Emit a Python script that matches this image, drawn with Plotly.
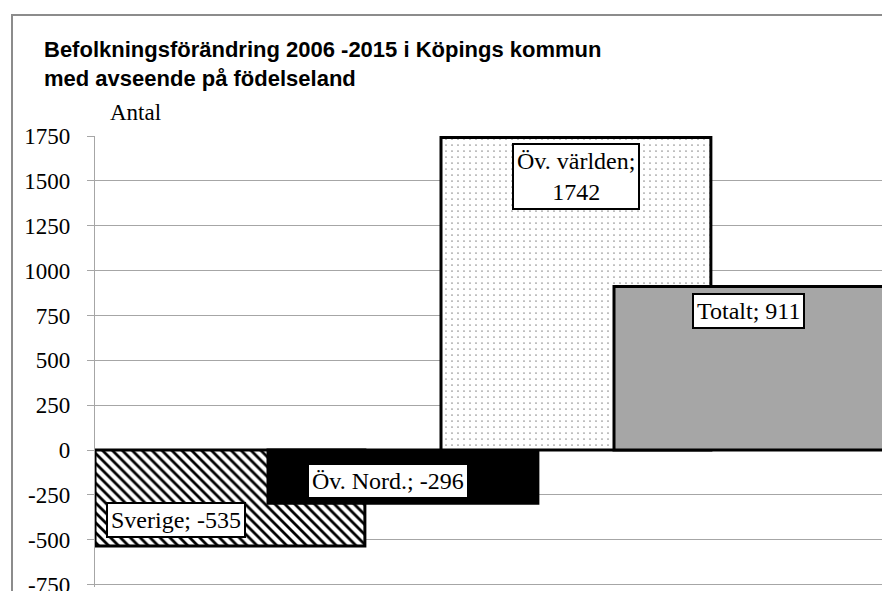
import plotly.graph_objects as go

categories = ["Sverige", "Öv. Nord.", "Öv. världen", "Totalt"]
values = [-535, -296, 1742, 911]
label_texts = ["Sverige; -535", "Öv. Nord.; -296", "Öv. världen;<br>1742", "Totalt; 911"]
fill_colors = ["white", "black", "white", "#a6a6a6"]
pattern_shapes = ["\\", "", ".", ""]
y_ticks = [-750, -500, -250, 0, 250, 500, 750, 1000, 1250, 1500, 1750]

W, H = 882, 591
ML, MR, MT, MB = 95, 0, 136, 4
bar_width = 1.56
x_pos = list(range(len(categories)))
x_range = [-bar_width / 2, -bar_width / 2 + (W - ML - MR) / 173.0]
y_range = [-763, 1750]
SERIF = "Liberation Serif, Times New Roman, serif"

fig = go.Figure()
for i, (cat, v) in enumerate(zip(categories, values)):
    pat = dict(shape=pattern_shapes[i], fgcolor="black", bgcolor="white",
               size=7 if pattern_shapes[i] == "\\" else 6,
               solidity=0.4 if pattern_shapes[i] == "\\" else 0.03,
               fillmode="replace") if pattern_shapes[i] else None
    fig.add_trace(go.Bar(
        x=[x_pos[i]], y=[v], width=[bar_width], name=cat,
        marker=dict(color=fill_colors[i],
                    line=dict(color="black", width=3),
                    pattern=pat),
        showlegend=False, hoverinfo="skip",
    ))

label_xshift = [-54, -15, 0, 0]
for i, (v, t) in enumerate(zip(values, label_texts)):
    fig.add_annotation(
        x=x_pos[i], y=v, text=t, showarrow=False,
        xshift=label_xshift[i],
        yanchor="top" if v > 0 else "bottom",
        yshift=-6 if v > 0 else (8 if i == 0 else 4),
        font=dict(family=SERIF, size=24, color="black"),
        bgcolor="white", bordercolor="black", borderwidth=2, borderpad=3,
    )

fig.add_annotation(
    xref="paper", yref="paper", x=(108 - ML) / (W - ML - MR), y=1,
    xanchor="left", yanchor="bottom", yshift=9,
    text="Antal", showarrow=False,
    font=dict(family=SERIF, size=23, color="black"),
)

# outer chart frame (extends beyond the visible area)
pw, ph = W - ML - MR, H - MT - MB
fig.add_shape(type="rect", xref="paper", yref="paper",
              x0=(12 - ML) / pw, x1=(W + 20 - ML) / pw,
              y0=-(MB + 20) / ph, y1=(H - MB - 15) / ph,
              line=dict(color="#8c8c8c", width=2), fillcolor="rgba(0,0,0,0)",
              layer="below")

fig.update_layout(
    width=W, height=H,
    margin=dict(l=ML, r=MR, t=MT, b=MB, autoexpand=False),
    paper_bgcolor="white", plot_bgcolor="white",
    barmode="overlay",
    title=dict(
        text="<b>Befolkningsförändring 2006 -2015 i Köpings kommun<br>med avseende på födelseland</b>",
        xref="container", yref="container", x=44 / W, xanchor="left",
        y=1 - 57 / H, yanchor="top",
        font=dict(family="Liberation Sans, Arial, sans-serif", size=22, color="black"),
    ),
    xaxis=dict(range=x_range, showticklabels=False, showgrid=False,
               zeroline=False, showline=False, ticks="", automargin=False),
    yaxis=dict(range=y_range, tickvals=y_ticks,
               ticktext=[str(t) for t in y_ticks], automargin=False,
               ticklabeloverflow="allow",
               showgrid=True, gridcolor="#a6a6a6", gridwidth=1.3,
               zeroline=True, zerolinecolor="#a6a6a6", zerolinewidth=1.3,
               showline=True, linecolor="#a6a6a6", linewidth=1.3,
               ticks="outside", ticklen=7, tickcolor="#a6a6a6",
               ticklabelstandoff=12,
               tickfont=dict(family=SERIF, size=23, color="black")),
)

fig.write_html("out.html", config={"displayModeBar": False},
               post_script="document.body.style.margin='0px';document.body.style.overflow='hidden';")
